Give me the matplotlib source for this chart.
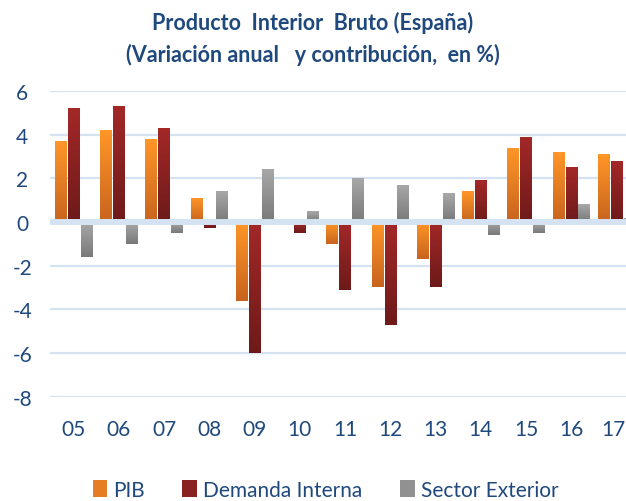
import numpy as np
import matplotlib
matplotlib.use("Agg")
import matplotlib.pyplot as plt
import matplotlib.transforms as mtransforms
from matplotlib.colors import LinearSegmentedColormap
from matplotlib.patches import Patch

# data (% variación anual y contribución)
years = ['05', '06', '07', '08', '09', '10', '11', '12', '13', '14', '15', '16', '17']
pib = [3.7, 4.2, 3.8, 1.1, -3.6, 0.0, -1.0, -3.0, -1.7, 1.4, 3.4, 3.2, 3.1]
demanda = [5.2, 5.3, 4.3, -0.3, -6.0, -0.5, -3.1, -4.7, -3.0, 1.9, 3.9, 2.5, 2.8]
sector_ext = [-1.6, -1.0, -0.5, 1.4, 2.4, 0.5, 2.0, 1.7, 1.3, -0.6, -0.5, 0.8, 0.2]
y_ticks = [6, 4, 2, 0, -2, -4, -6, -8]

txt_color = '#1F497D'
grid_color = '#D5E2F2'
plt.rcParams['font.family'] = ['Lato', 'DejaVu Sans']

fig = plt.figure(figsize=(6.26, 5.02), dpi=100)
ax = fig.add_axes([0.08, 0.208, 0.941, 0.609])

x = np.arange(len(years))
w = 0.255
off = 0.285
series = [
    (pib, -off, '#FF9628', '#C8641E', 'PIB'),
    (demanda, 0, '#A32828', '#6E1A1A', 'Demanda Interna'),
    (sector_ext, off, '#A8A8A8', '#797979', 'Sector Exterior'),
]

grad = np.linspace(0, 1, 64).reshape(-1, 1)
handles = []
for vals, dx, top, bot, name in series:
    bars = ax.bar(x + dx, vals, width=w, color=top, zorder=2, linewidth=0)
    cmap = LinearSegmentedColormap.from_list(name, [bot, top])
    for p in bars:
        bx, by, bw, bh = p.get_x(), p.get_y(), p.get_width(), p.get_height()
        if bh == 0:
            continue
        y0, y1 = min(by, by + bh), max(by, by + bh)
        im = ax.imshow(grad, extent=[bx, bx + bw, y0, y1], origin='lower',
                       cmap=cmap, aspect='auto', zorder=2.5, interpolation='bilinear')
        im.set_clip_path(p)
    handles.append(Patch(facecolor=cmap(0.5), label=name))

ax.set_xlim(-0.52, 12.5)
ax.set_ylim(-8, 6)
ax.set_yticks(y_ticks)
ax.set_yticklabels([str(t) for t in y_ticks])
ax.set_xticks(x)
ax.set_xticklabels(years)
ax.tick_params(axis='both', length=0, labelsize=15, colors=txt_color)
ax.tick_params(axis='x', pad=16)
ax.tick_params(axis='y', pad=20)
for lab in ax.get_yticklabels():
    lab.set_horizontalalignment('center')
# last label sits against the right edge
last = ax.get_xticklabels()[-1]
last.set_transform(last.get_transform() +
                   mtransforms.ScaledTranslation(-3 / 100, 0, fig.dpi_scale_trans))

for t in y_ticks:
    if t != 0:
        ax.axhline(t, color=grid_color, lw=1.6, zorder=1)
ax.axhline(0, color=grid_color, lw=4.3, zorder=3)
for s in ax.spines.values():
    s.set_visible(False)

fig.text(0.5, 0.955, 'Producto  Interior  Bruto (España)', ha='center', va='center',
         fontsize=15.5, fontweight='bold', color=txt_color)
fig.text(0.5, 0.89, '(Variación anual   y contribución,  en %)', ha='center', va='center',
         fontsize=15.5, fontweight='bold', color=txt_color)

fig.legend(handles=handles, loc='center', bbox_to_anchor=(0.52, 0.022), ncol=3,
           frameon=False, fontsize=15, handlelength=0.7, handleheight=0.9,
           handletextpad=0.3, columnspacing=1.8, labelcolor=txt_color)

fig.savefig('out.png', dpi=100)
